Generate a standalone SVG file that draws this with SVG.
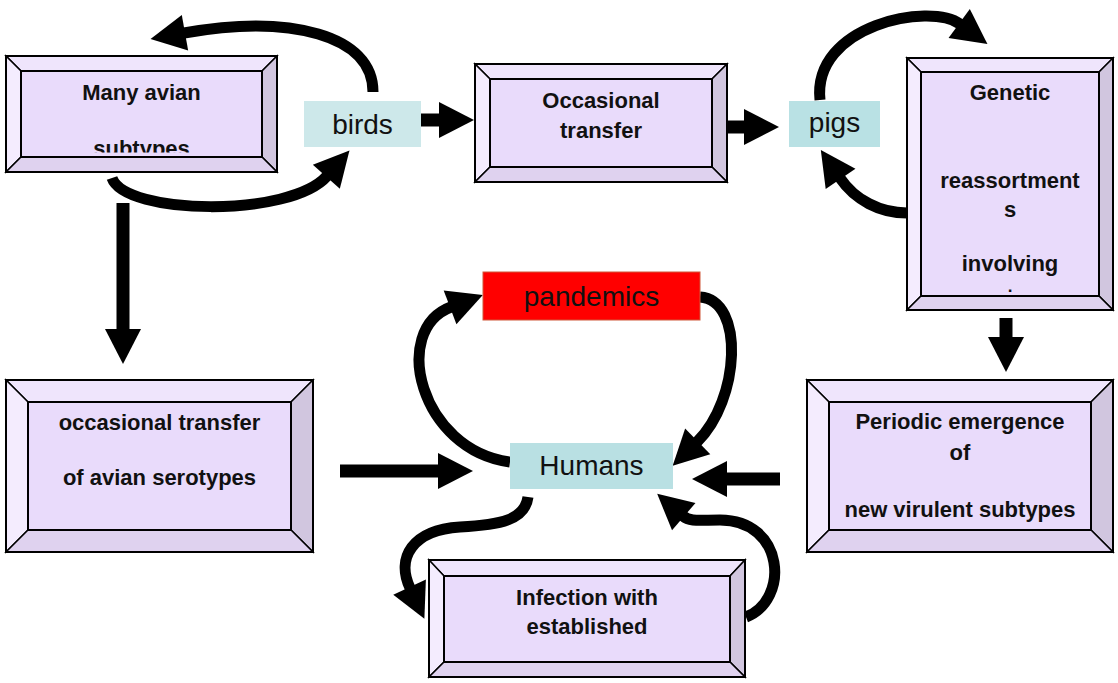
<svg xmlns="http://www.w3.org/2000/svg" width="1118" height="683" viewBox="0 0 1118 683">
<style>
.top{fill:#efe5fc;stroke:#000;stroke-width:1.5}
.lft{fill:#f4ecfe;stroke:#000;stroke-width:1.5}
.rgt{fill:#d1c6df;stroke:#000;stroke-width:1.5}
.bot{fill:#dfd2ef;stroke:#000;stroke-width:1.5}
.face{fill:#e9dbfb;stroke:#000;stroke-width:2}
.outer{fill:none;stroke:#000;stroke-width:2}
.bt{font-family:"Liberation Sans",Arial,sans-serif;font-weight:bold;font-size:22px;fill:#111;text-anchor:middle}
.lbl{font-family:"Liberation Sans",Arial,sans-serif;font-size:28px;fill:#111;text-anchor:middle}
.con{fill:none;stroke:#000;stroke-width:11;marker-end:url(#ah)}
.str{fill:none;stroke:#000;stroke-width:13;marker-end:url(#ah)}
</style>
<defs>
<marker id="ah" markerUnits="userSpaceOnUse" markerWidth="40" markerHeight="40" refX="1" refY="18" orient="auto" overflow="visible"><path d="M0,0 L35,18 L0,36 z" fill="#000"/></marker>
<clipPath id="clipA"><rect x="21" y="71" width="241" height="81.5"/></clipPath>
<clipPath id="clipC"><rect x="921" y="72" width="178" height="224"/></clipPath>
</defs>
<rect width="1118" height="683" fill="#fff"/>

<g id="connectors">
<path class="con" d="M373,92 C373,35 290,14 184,33"/>
<path class="con" d="M112,178 C125,215 290,218 327,176"/>
<path class="str" d="M421,120 H440"/>
<path class="str" d="M727,127 H745"/>
<path class="con" d="M820,100 C812,25 930,2 960,24"/>
<path class="con" d="M907,213 C880,213 855,200 840,178"/>
<path class="str" d="M1006,318 V338"/>
<path class="str" d="M123,203 V330"/>
<path class="str" d="M340,471 H439"/>
<path class="str" d="M780,479 H726"/>
<path class="con" d="M510,462 C420,450 390,330 451,307"/>
<path class="con" d="M700,297 C745,300 740,400 697,442"/>
<path class="con" d="M528,497 C525,520 500,525 460,527 C412,530 396,558 410,588"/>
<path class="con" d="M746,617 C790,600 785,520 720,520 C700,520 690,522 683,516"/>
</g>

<g id="node-many-avian">
<polygon class="top" points="6,56 277,56 262,71 21,71"/>
<polygon class="lft" points="6,56 21,71 21,157 6,172"/>
<polygon class="rgt" points="277,56 277,172 262,157 262,71"/>
<polygon class="bot" points="6,172 21,157 262,157 277,172"/>
<rect class="face" x="21" y="71" width="241" height="86"/>
<rect class="outer" x="6" y="56" width="271" height="116"/>
<g clip-path="url(#clipA)">
<text class="bt" x="141.5" y="100">Many avian</text>
<text class="bt" x="141.5" y="156">subtypes</text>
</g>
</g>

<g id="node-birds">
<rect x="304" y="101" width="117" height="46" fill="#cde8ea"/>
<text class="lbl" x="362.5" y="134">birds</text>
</g>

<g id="node-occasional-transfer">
<polygon class="top" points="475,64 727,64 712,79 490,79"/>
<polygon class="lft" points="475,64 490,79 490,167 475,182"/>
<polygon class="rgt" points="727,64 727,182 712,167 712,79"/>
<polygon class="bot" points="475,182 490,167 712,167 727,182"/>
<rect class="face" x="490" y="79" width="222" height="88"/>
<rect class="outer" x="475" y="64" width="252" height="118"/>
<text class="bt" x="601" y="108">Occasional</text>
<text class="bt" x="601" y="138">transfer</text>
</g>

<g id="node-pigs">
<rect x="789" y="101" width="91" height="46" fill="#b9e1e4"/>
<text class="lbl" x="834.5" y="132">pigs</text>
</g>

<g id="node-genetic">
<polygon class="top" points="907,58 1113,58 1099,72 921,72"/>
<polygon class="lft" points="907,58 921,72 921,296 907,310"/>
<polygon class="rgt" points="1113,58 1113,310 1099,296 1099,72"/>
<polygon class="bot" points="907,310 921,296 1099,296 1113,310"/>
<rect class="face" x="921" y="72" width="178" height="224"/>
<rect class="outer" x="907" y="58" width="206" height="252"/>
<g clip-path="url(#clipC)">
<text class="bt" x="1010" y="100">Genetic</text>
<text class="bt" x="1010" y="188">reassortment</text>
<text class="bt" x="1010" y="217">s</text>
<text class="bt" x="1010" y="271">involving</text>
<text class="bt" x="1010" y="292" style="font-size:17px">.</text>
</g>
</g>

<g id="node-pandemics">
<rect x="483" y="272" width="217" height="48" fill="#ff0000" stroke="#d0583a" stroke-width="1"/>
<text class="lbl" x="591.5" y="306">pandemics</text>
</g>

<g id="node-humans">
<rect x="510" y="443" width="163" height="46" fill="#b9e0e3"/>
<text class="lbl" x="591.5" y="475">Humans</text>
</g>

<g id="node-occasional-serotypes">
<polygon class="top" points="6,380 313,380 291,402 28,402"/>
<polygon class="lft" points="6,380 28,402 28,530 6,552"/>
<polygon class="rgt" points="313,380 313,552 291,530 291,402"/>
<polygon class="bot" points="6,552 28,530 291,530 313,552"/>
<rect class="face" x="28" y="402" width="263" height="128"/>
<rect class="outer" x="6" y="380" width="307" height="172"/>
<text class="bt" x="159.5" y="430">occasional transfer</text>
<text class="bt" x="159.5" y="485">of avian serotypes</text>
</g>

<g id="node-periodic">
<polygon class="top" points="807,380 1113,380 1091,402 829,402"/>
<polygon class="lft" points="807,380 829,402 829,530 807,552"/>
<polygon class="rgt" points="1113,380 1113,552 1091,530 1091,402"/>
<polygon class="bot" points="807,552 829,530 1091,530 1113,552"/>
<rect class="face" x="829" y="402" width="262" height="128"/>
<rect class="outer" x="807" y="380" width="306" height="172"/>
<text class="bt" x="960" y="429">Periodic emergence</text>
<text class="bt" x="960" y="460">of</text>
<text class="bt" x="960" y="517">new virulent subtypes</text>
</g>

<g id="node-infection">
<polygon class="top" points="429,560 745,560 730,576 444,576"/>
<polygon class="lft" points="429,560 444,576 444,662 429,677"/>
<polygon class="rgt" points="745,560 745,677 730,662 730,576"/>
<polygon class="bot" points="429,677 444,662 730,662 745,677"/>
<rect class="face" x="444" y="576" width="286" height="86"/>
<rect class="outer" x="429" y="560" width="316" height="117"/>
<text class="bt" x="587" y="605">Infection with</text>
<text class="bt" x="587" y="634">established</text>
</g>
</svg>
